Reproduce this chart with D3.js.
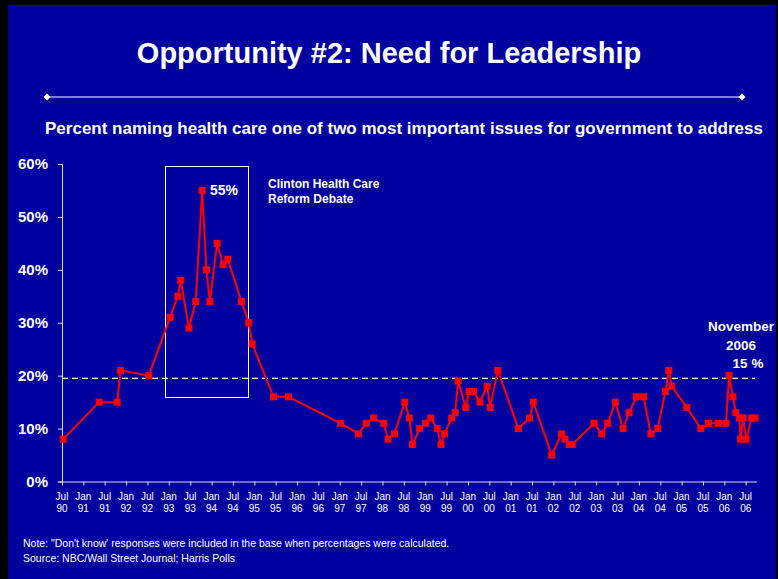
<!DOCTYPE html>
<html><head><meta charset="utf-8">
<script src="https://cdn.jsdelivr.net/npm/d3@7"></script>
<style>html,body{margin:0;padding:0;background:#000;}svg{display:block;}</style>
</head><body>
<script>
// ---- data (decimal year, percent) ----
const dates = [1990.53,1991.37,1991.79,1991.87,1992.53,1993.03,1993.21,1993.28,1993.47,1993.63,1993.78,1993.88,1993.96,1994.13,1994.27,1994.38,1994.70,1994.87,1994.95,
1995.45,1995.80,1997.02,1997.44,1997.62,1997.79,1998.03,1998.13,1998.28,1998.52,1998.63,1998.70,1998.87,1999.01,1999.13,1999.28,1999.37,1999.45,1999.62,1999.70,1999.77,1999.95,
2000.03,2000.13,2000.28,2000.45,2000.52,2000.70,2001.18,2001.44,2001.53,2001.96,2002.19,2002.27,2002.37,2002.44,2002.95,2003.13,2003.27,2003.45,2003.63,2003.77,2003.94,
2004.11,2004.28,2004.44,2004.62,2004.70,2004.77,2005.12,2005.45,2005.63,2005.86,2006.04,2006.11,2006.20,2006.27,2006.35,2006.38,2006.44,2006.51,2006.64,2006.72];
const values = [8,15,15,21,20,31,35,38,29,34,55,40,34,45,41,42,34,30,26,
16,16,11,9,11,12,11,8,9,15,12,7,10,11,12,10,7,9,12,13,19,14,
17,17,15,18,14,21,10,12,15,5,9,8,7,7,11,9,11,15,10,13,16,
16,9,10,17,21,18,14,10,11,11,11,20,16,13,12,8,12,8,12,12];
const tickMonths = ["Jul","Jan"];
const tickYears = [1990.5,1991,1991.5,1992,1992.5,1993,1993.5,1994,1994.5,1995,1995.5,1996,1996.5,1997,1997.5,1998,1998.5,1999,1999.5,2000,2000.5,2001,2001.5,2002,2002.5,2003,2003.5,2004,2004.5,2005,2005.5,2006,2006.5];
const yTicks = [0,10,20,30,40,50,60];
const referenceLevel = 19.5;
const title = "Opportunity #2: Need for Leadership";
const subtitle = "Percent naming health care one of two most important issues for government to address";

const W = 778, H = 579;
const svg = d3.select("body").append("svg").attr("width", W).attr("height", H)
  .style("font-family", "'Liberation Sans', Arial, sans-serif");
svg.append("rect").attr("width", W).attr("height", H).attr("fill", "#000");
svg.append("rect").attr("x", 8).attr("y", 5).attr("width", 768).attr("height", 574).attr("fill", "#00009E");

// title
svg.append("text").attr("x", 389).attr("y", 63).attr("text-anchor", "middle")
  .attr("fill", "#fff").attr("font-weight", "bold").attr("font-size", 29).text(title);
svg.append("line").attr("x1", 47).attr("x2", 742).attr("y1", 97).attr("y2", 97)
  .attr("stroke", "#fff").attr("stroke-width", 1.2);
[47, 742].forEach(x => svg.append("path")
  .attr("d", `M${x-3.5},97L${x},93.5L${x+3.5},97L${x},100.5Z`).attr("fill", "#fff"));
svg.append("text").attr("x", 404).attr("y", 134).attr("text-anchor", "middle")
  .attr("fill", "#fff").attr("font-weight", "bold").attr("font-size", 17).text(subtitle);

// scales
const x = d3.scaleLinear().domain([1990.5, 2006.75]).range([62, 756.4]);
const y = d3.scaleLinear().domain([0, 60]).range([481.5, 164]);

// y axis
const yAxis = svg.append("g").attr("transform", "translate(62,0)")
  .call(d3.axisLeft(y).tickValues(yTicks).tickFormat(d => d + "%").tickSize(4).tickPadding(10));
yAxis.select(".domain").attr("stroke", "#ddd");
yAxis.selectAll(".tick line").attr("stroke", "#ddd");
yAxis.selectAll("text").attr("fill", "#fff").attr("font-weight", "bold").attr("font-size", 15)
  .attr("font-family", "'Liberation Sans', Arial, sans-serif").attr("dx", 0);

// x axis
const xAxis = svg.append("g").attr("transform", "translate(0,481.5)")
  .call(d3.axisBottom(x).tickValues(tickYears).tickFormat("").tickSize(4).tickSizeOuter(0));
xAxis.select(".domain").attr("stroke", "#ddd");
xAxis.selectAll(".tick line").attr("stroke", "#ddd");
const lab = svg.append("g").attr("fill", "#fff").attr("font-size", 10).attr("text-anchor", "middle");
tickYears.forEach((t, i) => {
  const m = tickMonths[i % 2];
  const yy = String(Math.floor(t) % 100).padStart(2, "0");
  lab.append("text").attr("x", x(t)).attr("y", 500).text(m);
  lab.append("text").attr("x", x(t)).attr("y", 512).text(yy);
});

// reference dashed line
svg.append("line").attr("x1", x(1990.5)).attr("x2", 755).attr("y1", y(referenceLevel)).attr("y2", y(referenceLevel))
  .attr("stroke", "#fff").attr("stroke-width", 1.2).attr("stroke-dasharray", "6,4");

// Clinton box
svg.append("rect").attr("x", 165.5).attr("y", 166.5).attr("width", 83).attr("height", 231)
  .attr("fill", "none").attr("stroke", "#fff").attr("stroke-width", 1);

// series
const pts = dates.map((d, i) => [d, values[i]]);
svg.append("path").datum(pts)
  .attr("d", d3.line().x(d => x(d[0])).y(d => y(d[1])))
  .attr("fill", "none").attr("stroke", "#FF0000").attr("stroke-width", 2);
svg.append("g").selectAll("rect").data(pts).join("rect")
  .attr("x", d => x(d[0]) - 3.5).attr("y", d => y(d[1]) - 3.5)
  .attr("width", 7).attr("height", 7).attr("fill", "#FF0000");

// annotations
const ann = svg.append("g").attr("fill", "#fff").attr("font-weight", "bold");
ann.append("text").attr("x", 210).attr("y", 195).attr("font-size", 14).text("55%");
ann.append("text").attr("x", 268).attr("y", 188).attr("font-size", 12).text("Clinton Health Care");
ann.append("text").attr("x", 268).attr("y", 203).attr("font-size", 12).text("Reform Debate");
ann.append("text").attr("x", 741).attr("y", 331).attr("font-size", 13.5).attr("text-anchor", "middle").text("November");
ann.append("text").attr("x", 741).attr("y", 350).attr("font-size", 13.5).attr("text-anchor", "middle").text("2006");
ann.append("text").attr("x", 748).attr("y", 368).attr("font-size", 13.5).attr("text-anchor", "middle").text("15 %");

// notes
const nt = svg.append("g").attr("fill", "#fff").attr("font-size", 10.5);
nt.append("text").attr("x", 23).attr("y", 547).text("Note: \"Don't know' responses were included in the base when percentages were calculated.");
nt.append("text").attr("x", 23).attr("y", 562).text("Source: NBC/Wall Street Journal; Harris Polls");
</script>
</body></html>
